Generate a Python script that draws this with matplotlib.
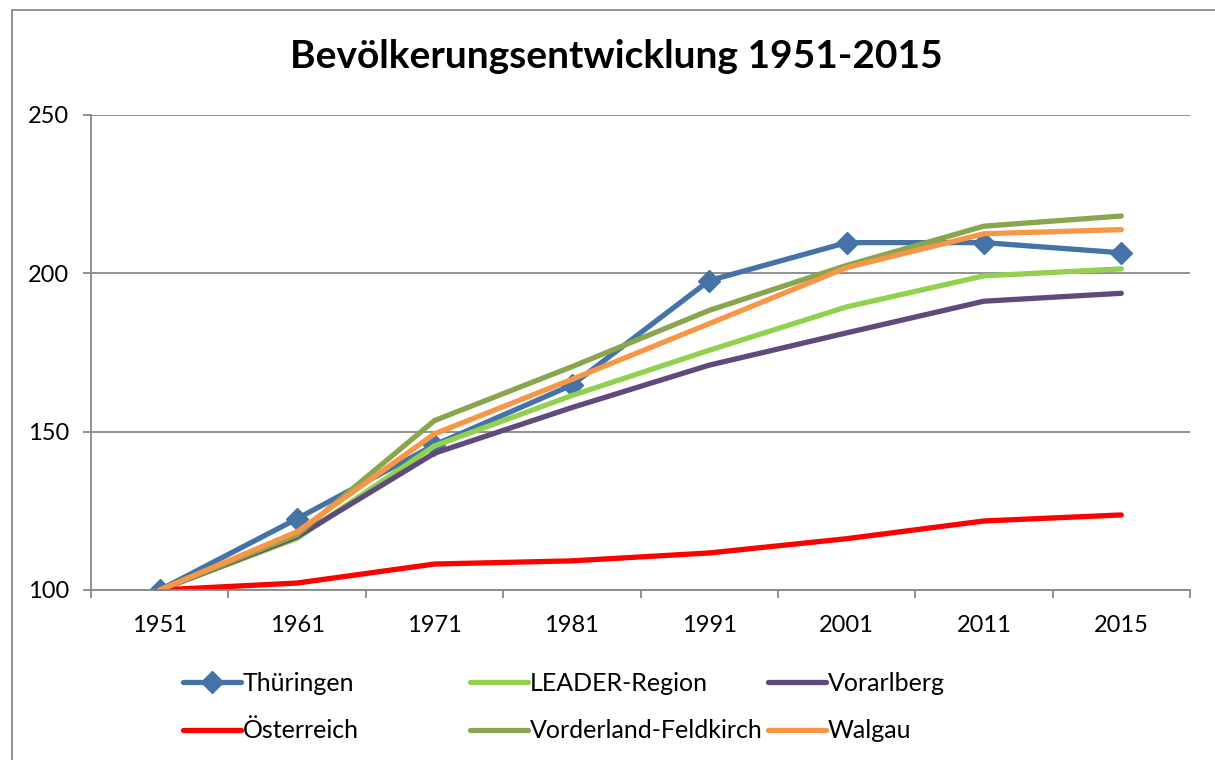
import numpy as np
import matplotlib.pyplot as plt
from matplotlib.patches import Rectangle

plt.rcParams['font.family'] = ['Lato', 'DejaVu Sans']

years = ['1951', '1961', '1971', '1981', '1991', '2001', '2011', '2015']
thueringen = [100, 122.5, 145.8, 164.7, 197.7, 209.7, 209.7, 206.5]
leader = [100, 116.3, 145.5, 161.4, 175.7, 189.4, 199.2, 201.4]
vorarlberg = [100, 116.8, 143.2, 157.6, 171.0, 181.2, 191.2, 193.7]
oesterreich = [100, 102.2, 108.2, 109.2, 111.7, 116.2, 121.8, 123.7]
vorderland = [100, 117.4, 153.5, 170.5, 188.3, 202.5, 214.9, 218.1]
walgau = [100, 118.4, 149.3, 166.5, 184.1, 201.8, 212.5, 213.8]

names = ['Thüringen', 'LEADER-Region', 'Vorarlberg', 'Österreich',
         'Vorderland-Feldkirch', 'Walgau']
series = [thueringen, leader, vorarlberg, oesterreich, vorderland, walgau]
colors = ['#4572A7', '#92D050', '#604A7B', '#FF0000', '#89A54E', '#F79646']

fig = plt.figure(figsize=(12.15, 7.6), dpi=100)
ax = fig.add_axes([91/1215, 1-590/760, (1190-91)/1215, (590-115)/760])

x = np.arange(len(years))
lines = []
for name, vals, c in zip(names, series, colors):
    kw = dict(marker='D', markersize=11) if name == 'Thüringen' else {}
    l, = ax.plot(x, vals, color=c, lw=3.8, label=name,
                 solid_capstyle='round', solid_joinstyle='round', **kw)
    lines.append(l)

grid_c = '#888888'
ax.set_xlim(-0.5, 7.5)
ax.set_ylim(100, 250)
ax.set_yticks([100, 150, 200, 250])
ax.yaxis.grid(True, color=grid_c, lw=1.3)
ax.set_axisbelow(True)
ax.set_xticks(x)
ax.set_xticklabels(years)
ax.set_xticks(np.arange(-0.5, 8, 1), minor=True)
ax.tick_params(axis='x', which='major', length=0, pad=18, labelsize=17)
ax.tick_params(axis='x', which='minor', length=6, width=1.3, color=grid_c,
               direction='out')
ax.tick_params(axis='y', length=6, width=1.3, color=grid_c, pad=10,
               labelsize=17)
for s in ['top', 'right']:
    ax.spines[s].set_visible(False)
for s in ['left', 'bottom']:
    ax.spines[s].set_color(grid_c)
    ax.spines[s].set_linewidth(1.3)

fig.text(616/1215, 1-57/760, 'Bevölkerungsentwicklung 1951-2015',
         ha='center', va='center', fontsize=28, fontweight='bold')

# chart border
fig.patches.append(Rectangle((12/1215, -0.05), 1.1, 1.05-10/760,
                             transform=fig.transFigure, fill=False,
                             edgecolor='#888888', lw=1.3))

# legend: three columns of two entries
cols = [(0, 3), (1, 4), (2, 5)]
xs = [183/1215, 470/1215, 768/1215]
for (i, j), xpos in zip(cols, xs):
    lg = fig.legend([lines[i], lines[j]], [names[i], names[j]],
                    loc='upper left', bbox_to_anchor=(xpos, 1-672/760),
                    frameon=False, fontsize=18, handlelength=2.3,
                    handletextpad=0.1, borderpad=0, borderaxespad=0,
                    labelspacing=0.97)

fig.savefig('out.png', dpi=100)
